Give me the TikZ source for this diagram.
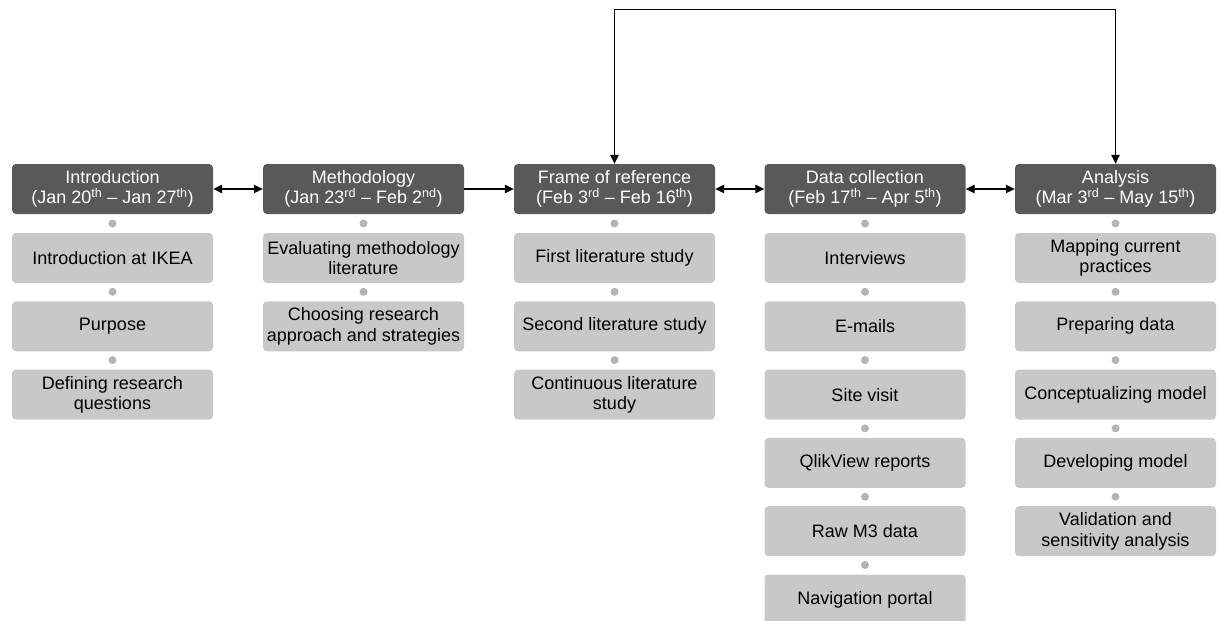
\documentclass[tikz,border=0pt]{standalone}
\usepackage{fontspec}
\setmainfont{Liberation Sans}
\usetikzlibrary{arrows.meta}
\definecolor{headgray}{HTML}{595959}
\definecolor{taskgray}{HTML}{C8C8C8}
\definecolor{dotgray}{HTML}{B4B4B4}
\begin{document}
\begin{tikzpicture}[x=1pt,y=-1pt,
  box/.style={rounded corners=4pt, minimum width=201pt, minimum height=50pt,
    align=center, inner sep=0pt, font=\fontsize{18}{20.5}\selectfont},
  phase/.style={box, fill=headgray, text=white},
  task/.style={box, fill=taskgray, text=black},
  dot/.style={circle, fill=dotgray, minimum size=8pt, inner sep=0pt},
  link/.style={draw=black, line width=1.2pt, -{Triangle[length=9pt,width=8.5pt]}},
  both/.style={link, {Triangle[length=9pt,width=8.5pt]}-{Triangle[length=9pt,width=8.5pt]}}
]
\useasboundingbox (0,0) rectangle (1219,621);
\clip (0,0) rectangle (1219,621);

% phase headers
\node[phase] (intro) at (112.5,189) {Introduction\\(Jan 20\textsuperscript{th} – Jan 27\textsuperscript{th})};
\node[phase] (meth)  at (363.5,189) {Methodology\\(Jan 23\textsuperscript{rd} – Feb 2\textsuperscript{nd})};
\node[phase] (frame) at (614.5,189) {Frame of reference\\(Feb 3\textsuperscript{rd} – Feb 16\textsuperscript{th})};
\node[phase] (data)  at (865,189)   {Data collection\\(Feb 17\textsuperscript{th} – Apr 5\textsuperscript{th})};
\node[phase] (anal)  at (1115.5,189) {Analysis\\(Mar 3\textsuperscript{rd} – May 15\textsuperscript{th})};

% Introduction tasks
\node[task] (i1) at (112.5,258)   {Introduction at IKEA};
\node[task] (i2) at (112.5,326.3) {Purpose};
\node[task] (i3) at (112.5,394.6) {Defining research\\questions};
\node[dot] (di1) at (112.5,223.5) {};
\node[dot] (di2) at (112.5,291.8) {};
\node[dot] (di3) at (112.5,360.1) {};

% Methodology tasks
\node[task] (m1) at (363.5,258)   {Evaluating methodology\\literature};
\node[task] (m2) at (363.5,326.3) {Choosing research\\approach and strategies};
\node[dot] (dm1) at (363.5,223.5) {};
\node[dot] (dm2) at (363.5,291.8) {};

% Frame of reference tasks
\node[task] (f1) at (614.5,258)   {First literature study};
\node[task] (f2) at (614.5,326.3) {Second literature study};
\node[task] (f3) at (614.5,394.6) {Continuous literature\\study};
\node[dot] (df1) at (614.5,223.5) {};
\node[dot] (df2) at (614.5,291.8) {};
\node[dot] (df3) at (614.5,360.1) {};

% Data collection tasks
\node[task] (c1) at (865,258)   {Interviews};
\node[task] (c2) at (865,326.3) {E-mails};
\node[task] (c3) at (865,394.6) {Site visit};
\node[task] (c4) at (865,462.9) {QlikView reports};
\node[task] (c5) at (865,531.2) {Raw M3 data};
\node[task] (c6) at (865,599.5) {Navigation portal};
\node[dot] (dc1) at (865,223.5) {};
\node[dot] (dc2) at (865,291.8) {};
\node[dot] (dc3) at (865,360.1) {};
\node[dot] (dc4) at (865,428.4) {};
\node[dot] (dc5) at (865,496.7) {};
\node[dot] (dc6) at (865,565) {};

% Analysis tasks
\node[task] (a1) at (1115.5,258)   {Mapping current\\practices};
\node[task] (a2) at (1115.5,326.3) {Preparing data};
\node[task] (a3) at (1115.5,394.6) {Conceptualizing model};
\node[task] (a4) at (1115.5,462.9) {Developing model};
\node[task] (a5) at (1115.5,531.2) {Validation and\\sensitivity analysis};
\node[dot] (da1) at (1115.5,223.5) {};
\node[dot] (da2) at (1115.5,291.8) {};
\node[dot] (da3) at (1115.5,360.1) {};
\node[dot] (da4) at (1115.5,428.4) {};
\node[dot] (da5) at (1115.5,496.7) {};

% links between phases
\draw[both] (intro.east) -- (meth.west);
\draw[link] (meth.east) -- (frame.west);
\draw[both] (frame.east) -- (data.west);
\draw[both] (data.east) -- (anal.west);

% feedback loop over the top
\coordinate (top) at (0,9.5);
\draw[both] (frame.north) -- (frame.north |- top) -- (anal.north |- top) -- (anal.north);
\end{tikzpicture}
\end{document}
